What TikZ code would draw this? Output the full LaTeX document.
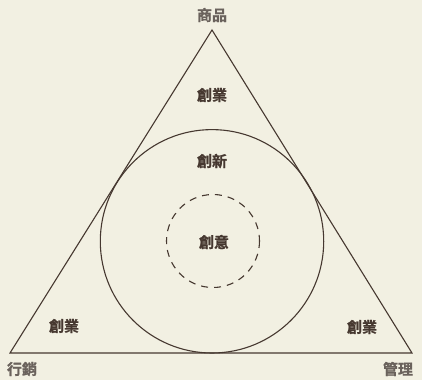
\documentclass[tikz,border=0pt]{standalone}
\usepackage{fontspec}
\newfontfamily\cjkb[FakeBold=1.2]{Noto Sans CJK TC Bold}
\newfontfamily\cjko[FakeBold=1.0]{Noto Sans CJK TC Bold}
\definecolor{bg}{HTML}{F2F0E2}
\definecolor{ink}{HTML}{463830}
\definecolor{lbl}{HTML}{6A625C}
\begin{document}
\begin{tikzpicture}[x=1pt,y=-1pt,
  inner/.style={font=\cjkb\fontsize{15}{17}\selectfont, text=ink, inner sep=0pt},
  outer/.style={font=\cjko\fontsize{15}{17}\selectfont, text=lbl, inner sep=0pt},
  shape line/.style={draw=ink, line width=1.1pt}]
\fill[bg] (0,0) rectangle (422,380);
\useasboundingbox (0,0) rectangle (422,380);
\coordinate (A) at (212,30);
\coordinate (B) at (10,353);
\coordinate (C) at (412,353);
\coordinate (O) at (212,241.3);
\coordinate (D) at (213,241);
\draw[shape line, line join=miter] (A) -- (B) -- (C) -- cycle;
\draw[shape line] (O) circle[radius=111.7];
\draw[shape line, dash pattern=on 7pt off 6pt] (D) circle[radius=46.5];
\node[outer] (top) at (212,15) {商品};
\node[outer] (bl) at (22,369) {行銷};
\node[outer] (br) at (398,369) {管理};
\node[inner] (e1) at (212,95) {創業};
\node[inner] (e2) at (212,161) {創新};
\node[inner] (e3) at (214,242) {創意};
\node[inner] (e4) at (64,326) {創業};
\node[inner] (e5) at (362,327) {創業};
\end{tikzpicture}
\end{document}
